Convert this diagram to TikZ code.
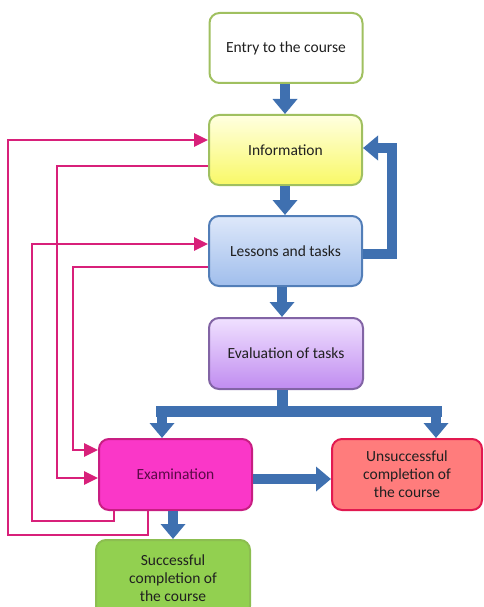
\documentclass[tikz,border=0pt]{standalone}
\usepackage{fontspec}
\setmainfont{Carlito}
\usetikzlibrary{arrows.meta,calc}
\definecolor{bluearr}{HTML}{3F70B0}
\definecolor{bluedark}{HTML}{2E5C98}
\definecolor{pinkline}{HTML}{D8207A}
\definecolor{greenbd}{HTML}{A0C060}
\definecolor{txt}{HTML}{202020}
\tikzset{
  box/.style={rounded corners=10pt, minimum width=153pt, minimum height=70pt, line width=2pt,
    align=center, font=\fontsize{15.5}{18}\selectfont, text=txt, inner sep=0pt},
  blockarr/.style={draw=bluearr, line width=10pt, line join=miter,
    -{Triangle[width=24pt,length=15pt]}},
  blockline/.style={draw=bluearr, line width=11pt, line join=miter},
  fb/.style={draw=pinkline, line width=2.8pt, line join=miter,
    -{Triangle[width=13pt,length=14pt]}},
}
\begin{document}
\begin{tikzpicture}[x=1pt,y=-1pt]
\useasboundingbox (0,0) rectangle (483,607);
% nodes
\node[box, draw=greenbd, fill=white] (entry) at (286,48) {Entry to the course};
\node[box, draw=greenbd, top color=yellow!12!white, bottom color=yellow!55!white!95!olive] (info) at (285.5,150) {Information};
\node[box, draw=bluearr!90, top color={rgb,255:red,222;green,232;blue,250}, bottom color={rgb,255:red,160;green,190;blue,236}] (lessons) at (285.5,251) {Lessons and tasks};
\node[box, draw={rgb,255:red,130;green,100;blue,165}, top color={rgb,255:red,240;green,225;blue,255}, bottom color={rgb,255:red,192;green,140;blue,240}, minimum width=154pt, minimum height=71pt] (eval) at (286,353.5) {Evaluation of tasks};
\node[box, draw={rgb,255:red,200;green,30;blue,130}, fill={rgb,255:red,250;green,55;blue,200}, text={rgb,255:red,90;green,10;blue,70}, minimum height=71pt] (exam) at (175.5,474.5) {Examination};
\node[box, draw={rgb,255:red,225;green,25;blue,80}, fill={rgb,255:red,255;green,124;blue,124}, minimum width=150pt, minimum height=71pt] (unsucc) at (407,474.5) {Unsuccessful\\completion of\\the course};
\node[box, draw={rgb,255:red,140;green,190;blue,80}, fill={rgb,255:red,146;green,208;blue,80}, minimum width=154pt, minimum height=76pt] (succ) at (173,578) {Successful\\completion of\\the course};
% coordinates
\coordinate (fbr) at (392,254);
\coordinate (fbt) at (392,148);
\coordinate (evb) at (282,411);
\coordinate (bl) at (162,411);
\coordinate (br) at (436,411);
\coordinate (p1) at (8,535);
\coordinate (p2) at (57,166);
\coordinate (p3) at (32,521);
\coordinate (p4) at (73,267);
% blue block arrows
\draw[blockarr] (entry.south -| 285,0) -- (info.north -| 285,0);
\draw[blockarr] (info.south -| 285,0) -- (lessons.north -| 285,0);
\draw[blockarr] (lessons.south -| 282,0) -- (eval.north -| 282,0);
\draw[blockarr] (lessons.east |- fbr) -- (fbr) -- (fbt) -- (info.east |- fbt);
\draw[blockline] (eval.south -| evb) -- (evb);
\draw[blockline, line cap=butt] (156,411) -- (442,411);
\draw[blockarr] (bl) -- (exam.north -| bl);
\draw[blockarr] (br) -- (unsucc.north -| br);
\draw[blockarr] (exam.east |- 0,479) -- (unsucc.west |- 0,479);
\draw[blockarr] (exam.south -| 173,0) -- (succ.north -| 173,0);
% pink feedback lines
\draw[fb] (exam.south -| 148,0) -- (148,535) -- (p1) -- (8,140) -- (info.west |- 0,140);
\draw[fb] (info.west |- p2) -- (p2) -- (57,478) -- (exam.west |- 0,478);
\draw[fb] (exam.south -| 114,0) -- (114,521) -- (p3) -- (32,244) -- (lessons.west |- 0,244);
\draw[fb] (lessons.west |- p4) -- (p4) -- (73,450) -- (exam.west |- 0,450);
\end{tikzpicture}
\end{document}
